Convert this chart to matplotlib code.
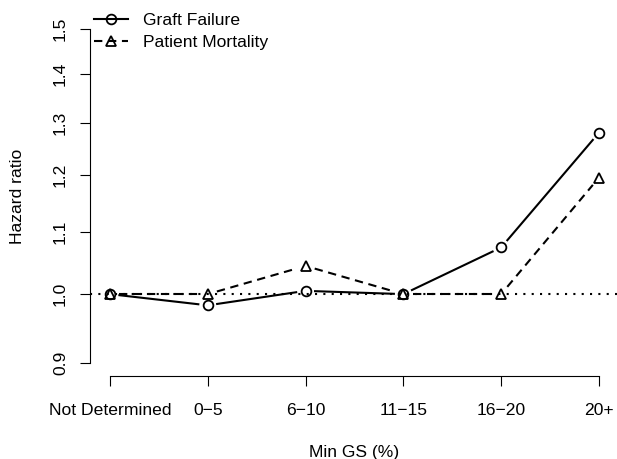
import numpy as np
import matplotlib
matplotlib.use('Agg')
import matplotlib.pyplot as plt
from matplotlib.lines import Line2D

plt.rcParams['font.family'] = ['Liberation Sans', 'DejaVu Sans']

# data
categories = ['Not Determined', '0\u22125', '6\u221210', '11\u221215', '16\u221220', '20+']
graft_failure = [1.000, 0.983, 1.005, 1.000, 1.074, 1.280]
patient_mortality = [1.000, 1.000, 1.044, 1.000, 1.000, 1.195]
y_ticks = [0.9, 1.0, 1.1, 1.2, 1.3, 1.4, 1.5]

fs = 12.6
lw = 1.5
dashed = (0, (4, 2.7))
dotted = (0, (1, 3))
gap = 9.5  # px, like R type="b"

fig = plt.figure(figsize=(6.17, 4.59), dpi=100)
ax = fig.add_axes([0.1465, 0.18, 0.856, 0.786])
ax.set_yscale('log')

x = np.arange(1, len(categories) + 1)
# R style 4% padding
ax.set_xlim(1 - 0.04 * 5, 6 + 0.04 * 5)
lo, hi = np.log(0.9), np.log(1.5)
pad = 0.04 * (hi - lo)
ax.set_ylim(np.exp(lo - pad), np.exp(hi + pad))

ax.axhline(1.0, color='black', lw=lw, linestyle=dotted, zorder=1)


def gapped(xs, ys, ls):
    # segments that stop short of each point
    pts = ax.transData.transform(np.column_stack([xs, ys]))
    inv = ax.transData.inverted()
    for i in range(len(pts) - 1):
        a, b = pts[i], pts[i + 1]
        d = b - a
        n = np.hypot(*d)
        if n <= 2 * gap:
            continue
        u = d / n
        seg = inv.transform(np.array([a + u * gap, b - u * gap]))
        ax.plot(seg[:, 0], seg[:, 1], color='black', lw=lw, linestyle=ls,
                zorder=2)


gapped(x, graft_failure, 'solid')
gapped(x, patient_mortality, dashed)
ax.plot(x, graft_failure, linestyle='none', marker='o', ms=7.0,
        mfc='none', mec='black', mew=1.3, zorder=3)
ax.plot(x, patient_mortality, linestyle='none', marker='^', ms=7.6,
        mfc='none', mec='black', mew=1.3, zorder=3)

for s in ['top', 'right']:
    ax.spines[s].set_visible(False)
ax.spines['left'].set_bounds(0.9, 1.5)
ax.spines['bottom'].set_bounds(1, 6)
for s in ['left', 'bottom']:
    ax.spines[s].set_linewidth(0.8)

ax.set_xticks(x)
ax.set_xticklabels(categories)
ax.yaxis.set_minor_locator(matplotlib.ticker.NullLocator())
ax.set_yticks(y_ticks)
ax.set_yticklabels(['%.1f' % v for v in y_ticks], rotation=90, va='center')
ax.tick_params(axis='both', length=7.2, width=0.8, labelsize=fs)
ax.tick_params(axis='x', pad=12.0)
ax.tick_params(axis='y', pad=9.0)

ax.set_xlabel('Min GS (%)', fontsize=fs)
ax.set_ylabel('Hazard ratio', fontsize=fs)
ax.xaxis.label.set_va('center')
ax.yaxis.label.set_va('center')
ax.xaxis.set_label_coords(0.5, -(453 - 376.4) / 360.8)
ax.yaxis.set_label_coords((18 - 90.4) / 528.2, 0.5)

handles = [
    Line2D([], [], color='black', lw=lw, marker='o', ms=7.0, mfc='none', mew=1.3),
    Line2D([], [], color='black', lw=lw, linestyle=dashed, marker='^', ms=7.6,
           mfc='none', mew=1.3),
]
fig.legend(handles, ['Graft Failure', 'Patient Mortality'], loc='upper left',
           bbox_to_anchor=(94 / 617, 1 - 13 / 459), frameon=False, fontsize=fs,
           borderpad=0, borderaxespad=0, handlelength=1.94, handletextpad=0.86,
           labelspacing=0.36)

fig.savefig('out.png', dpi=100)
